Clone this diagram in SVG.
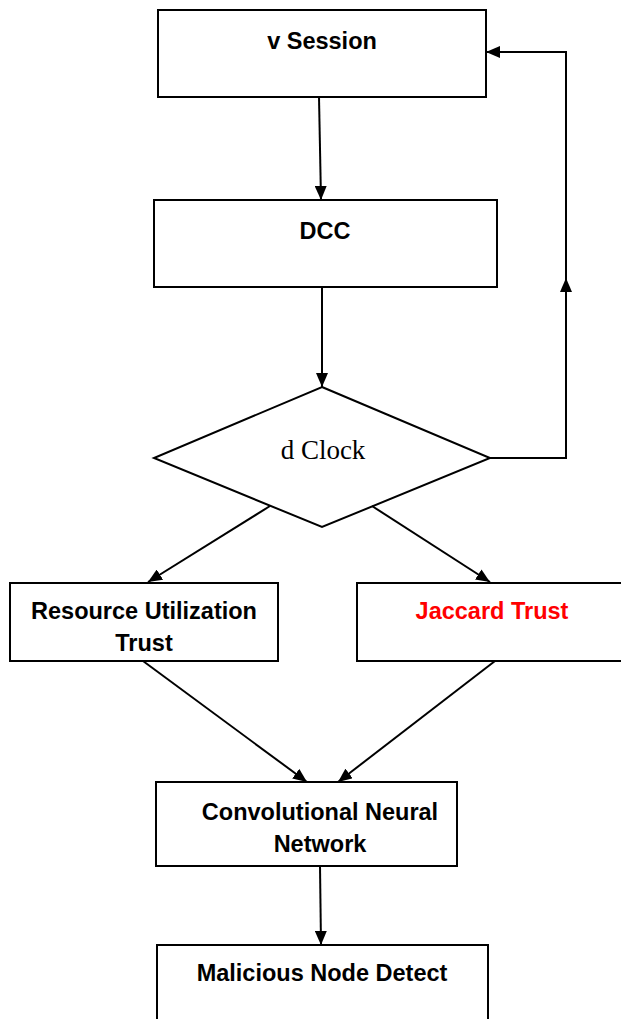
<svg xmlns="http://www.w3.org/2000/svg" width="621" height="1019" viewBox="0 0 621 1019">
  <style>
    .box { fill: #ffffff; stroke: #000000; stroke-width: 2; }
    .lbl { font-family: "Liberation Sans", Arial, sans-serif; font-weight: bold; font-size: 23.5px; fill: #000000; text-anchor: middle; }
    .red { fill: #ff0000; }
    .serif { font-family: "Liberation Serif", "Times New Roman", serif; font-weight: normal; font-size: 27px; }
    .conn { fill: none; stroke: #000000; stroke-width: 2; marker-end: url(#arrow); }
  </style>
  <defs>
    <marker id="arrow" markerUnits="userSpaceOnUse" markerWidth="14" markerHeight="12" refX="14" refY="6" orient="auto">
      <path d="M0,0 L14,6 L0,12 z" fill="#000000"/>
    </marker>
  </defs>
  <rect width="621" height="1019" fill="#ffffff"/>

  <g id="node-vsession">
    <rect class="box" x="158" y="10" width="328" height="87"/>
    <text class="lbl" x="322" y="49">v Session</text>
  </g>
  <g id="node-dcc">
    <rect class="box" x="154" y="200" width="343" height="87"/>
    <text class="lbl" x="325" y="239">DCC</text>
  </g>
  <g id="node-dclock">
    <polygon class="box" points="322,387 490,458 322,527 154,458"/>
    <text class="lbl serif" x="323" y="459">d Clock</text>
  </g>
  <g id="node-resource">
    <rect class="box" x="10" y="583" width="268" height="78"/>
    <text class="lbl" x="144" y="619">Resource Utilization</text>
    <text class="lbl" x="144" y="651">Trust</text>
  </g>
  <g id="node-jaccard">
    <rect class="box" x="357" y="583" width="280" height="78"/>
    <text class="lbl red" x="492" y="619">Jaccard Trust</text>
  </g>
  <g id="node-cnn">
    <rect class="box" x="156" y="782" width="301" height="84"/>
    <text class="lbl" x="320" y="820">Convolutional Neural</text>
    <text class="lbl" x="320" y="852">Network</text>
  </g>
  <g id="node-malicious">
    <rect class="box" x="157" y="945" width="331" height="90"/>
    <text class="lbl" x="322" y="981">Malicious Node Detect</text>
  </g>

  <g id="connectors">
    <path class="conn" d="M319,97 L321,200"/>
    <path class="conn" d="M322,287 L322,387"/>
    <path class="conn" d="M270,506 L148,582"/>
    <path class="conn" d="M372,506 L490,582"/>
    <path class="conn" d="M143,661 L307,782"/>
    <path class="conn" d="M495,661 L338,782"/>
    <path class="conn" d="M320,866 L321,945"/>
    <path class="conn" d="M490,458 L566,458 L566,278"/>
    <path class="conn" d="M566,280 L566,52 L486,52"/>
  </g>
</svg>
